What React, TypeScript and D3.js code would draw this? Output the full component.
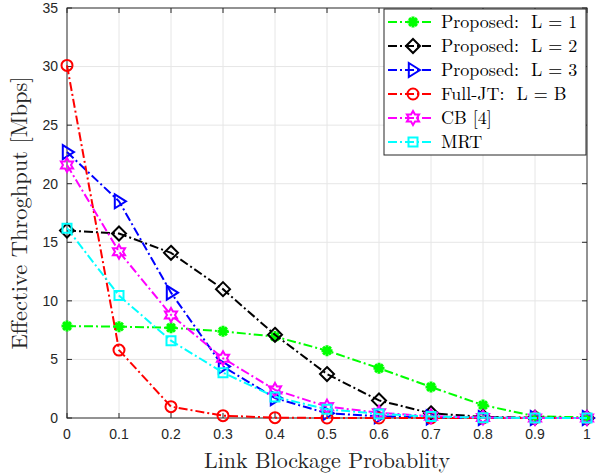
import { useMemo } from "react";
import * as d3 from "d3";

const WIDTH = 600;
const HEIGHT = 473;
const MARGIN = { top: 8, right: 13, bottom: 55, left: 67 };

// x axis: link blockage probability
const blockage = [0, 0.1, 0.2, 0.3, 0.4, 0.5, 0.6, 0.7, 0.8, 0.9, 1];
const xTicks = [0, 0.1, 0.2, 0.3, 0.4, 0.5, 0.6, 0.7, 0.8, 0.9, 1];
const yTicks = [0, 5, 10, 15, 20, 25, 30, 35];

// series values
const proposedL1 = [7.85, 7.8, 7.7, 7.4, 6.95, 5.75, 4.25, 2.65, 1.1, 0.15, 0.05];
const proposedL2 = [16.0, 15.75, 14.1, 11.0, 7.1, 3.75, 1.5, 0.4, 0.1, 0.02, 0.0];
const proposedL3 = [22.7, 18.5, 10.7, 4.4, 1.7, 0.4, 0.15, 0.05, 0.0, 0.0, 0.0];
const fullJT = [30.1, 5.8, 0.97, 0.2, 0.03, 0.0, 0.0, 0.0, 0.0, 0.0, 0.0];
const cb = [21.6, 14.2, 8.8, 5.1, 2.4, 0.97, 0.45, 0.15, 0.05, 0.0, 0.0];
const mrt = [16.2, 10.45, 6.6, 3.87, 1.8, 0.74, 0.35, 0.12, 0.03, 0.0, 0.0];

const seriesNames = [
  "Proposed:  L = 1",
  "Proposed:  L = 2",
  "Proposed:  L = 3",
  "Full-JT:  L = B",
  "CB [4]",
  "MRT",
];
const seriesValues = [proposedL1, proposedL2, proposedL3, fullJT, cb, mrt];
const COLORS = ["#00ff00", "#000000", "#0000ff", "#ff0000", "#ff00ff", "#00ffff"];
const MARKERS = ["asterisk", "diamond", "triangle", "circle", "hexagram", "square"];

const SERIF = "'Latin Modern Roman', 'Liberation Serif', 'DejaVu Serif', serif";
const SANS = "'Liberation Sans', Arial, Helvetica, sans-serif";
const AXIS_COLOR = "#262626";

// marker path centred on 0,0
const markerPath = (kind: string) => {
  switch (kind) {
    case "asterisk": {
      const r = 5.5;
      const p = d3.path();
      for (let i = 0; i < 4; i++) {
        const a = (i * Math.PI) / 4;
        p.moveTo(-r * Math.cos(a), -r * Math.sin(a));
        p.lineTo(r * Math.cos(a), r * Math.sin(a));
      }
      return p.toString();
    }
    case "diamond": {
      const r = 7;
      return `M0,${-r}L${r},0L0,${r}L${-r},0Z`;
    }
    case "triangle": {
      const r = 7;
      return `M${r},0L${-r * 0.6},${-r}L${-r * 0.6},${r}Z`;
    }
    case "circle":
      return d3.symbol(d3.symbolCircle, 95)() as string;
    case "square": {
      const s = 4.5;
      return `M${-s},${-s}L${s},${-s}L${s},${s}L${-s},${s}Z`;
    }
    case "hexagram": {
      const ro = 7;
      const ri = 4;
      const pts: string[] = [];
      for (let i = 0; i < 12; i++) {
        const a = -Math.PI / 2 + (i * Math.PI) / 6;
        const r = i % 2 === 0 ? ro : ri;
        pts.push(`${r * Math.cos(a)},${r * Math.sin(a)}`);
      }
      return `M${pts.join("L")}Z`;
    }
    default:
      return "";
  }
};

const Marker = ({ kind, color, x, y }: { kind: string; color: string; x: number; y: number }) => (
  <path
    d={markerPath(kind)}
    transform={`translate(${x},${y})`}
    fill="none"
    stroke={color}
    strokeWidth={kind === "asterisk" ? 3 : 2}
  />
);

const DASH = "9,3,2,3";

const Chart = () => {
  const boundsWidth = WIDTH - MARGIN.left - MARGIN.right;
  const boundsHeight = HEIGHT - MARGIN.top - MARGIN.bottom;

  const xScale = useMemo(
    () => d3.scaleLinear().domain([0, 1]).range([0, boundsWidth]),
    [boundsWidth]
  );
  const yScale = useMemo(
    () => d3.scaleLinear().domain([0, 35]).range([boundsHeight, 0]),
    [boundsHeight]
  );

  const lineGen = d3
    .line<number>()
    .x((_, i) => xScale(blockage[i]))
    .y((d) => yScale(d));

  const grid = (
    <g>
      {xTicks.slice(1, -1).map((t) => (
        <line key={"gx" + t} x1={xScale(t)} x2={xScale(t)} y1={0} y2={boundsHeight} stroke="#e6e6e6" />
      ))}
      {yTicks.slice(1, -1).map((t) => (
        <line key={"gy" + t} x1={0} x2={boundsWidth} y1={yScale(t)} y2={yScale(t)} stroke="#e6e6e6" />
      ))}
    </g>
  );

  const axes = (
    <g>
      {xTicks.map((t) => (
        <g key={"tx" + t}>
          <line x1={xScale(t)} x2={xScale(t)} y1={boundsHeight} y2={boundsHeight - 5} stroke={AXIS_COLOR} />
          <line x1={xScale(t)} x2={xScale(t)} y1={0} y2={5} stroke={AXIS_COLOR} />
          <text
            x={xScale(t)}
            y={boundsHeight + 21}
            textAnchor="middle"
            fontFamily={SANS}
            fontSize={14}
            fill={AXIS_COLOR}
          >
            {t}
          </text>
        </g>
      ))}
      {yTicks.map((t) => (
        <g key={"ty" + t}>
          <line x1={0} x2={5} y1={yScale(t)} y2={yScale(t)} stroke={AXIS_COLOR} />
          <line x1={boundsWidth} x2={boundsWidth - 5} y1={yScale(t)} y2={yScale(t)} stroke={AXIS_COLOR} />
          <text
            x={-9}
            y={yScale(t)}
            dy="0.35em"
            textAnchor="end"
            fontFamily={SANS}
            fontSize={14}
            fill={AXIS_COLOR}
          >
            {t}
          </text>
        </g>
      ))}
      <rect x={0} y={0} width={boundsWidth} height={boundsHeight} fill="none" stroke={AXIS_COLOR} />
    </g>
  );

  const lines = seriesValues.map((vals, i) => (
    <g key={"s" + i}>
      <path d={lineGen(vals) || ""} fill="none" stroke={COLORS[i]} strokeWidth={2} strokeDasharray={DASH} />
      {vals.map((v, j) => (
        <Marker key={j} kind={MARKERS[i]} color={COLORS[i]} x={xScale(blockage[j])} y={yScale(v)} />
      ))}
    </g>
  ));

  // legend in the top right corner
  const legendX = 384 - MARGIN.left;
  const legendY = 9 - MARGIN.top;
  const legendW = 202;
  const rowH = 24;
  const legend = (
    <g transform={`translate(${legendX},${legendY})`}>
      <rect width={legendW} height={146} fill="white" stroke={AXIS_COLOR} />
      {seriesNames.map((name, i) => {
        const cy = 13 + i * rowH;
        return (
          <g key={name}>
            <line x1={4} x2={50} y1={cy} y2={cy} stroke={COLORS[i]} strokeWidth={2} strokeDasharray={DASH} />
            <Marker kind={MARKERS[i]} color={COLORS[i]} x={29} y={cy} />
            <text
              x={57}
              y={cy}
              dy="0.33em"
              fontFamily={SERIF}
              fontSize={18}
              fill="#000"
              style={{ whiteSpace: "pre" }}
            >
              {name}
            </text>
          </g>
        );
      })}
    </g>
  );

  return (
    <svg width={WIDTH} height={HEIGHT} style={{ position: "absolute", left: 0, top: 0, background: "white" }}>
      <g transform={`translate(${MARGIN.left},${MARGIN.top})`}>
        {grid}
        {axes}
        {lines}
        {legend}
        <text
          x={boundsWidth / 2}
          y={boundsHeight + 50}
          textAnchor="middle"
          fontFamily={SERIF}
          fontSize={22}
          fill={AXIS_COLOR}
        >
          Link Blockage Probablity
        </text>
        <text
          transform={`translate(${-40},${boundsHeight / 2}) rotate(-90)`}
          textAnchor="middle"
          fontFamily={SERIF}
          fontSize={22.5}
          fill={AXIS_COLOR}
        >
          Effective Throghput [Mbps]
        </text>
      </g>
    </svg>
  );
};

export default function App() {
  return <Chart />;
}
